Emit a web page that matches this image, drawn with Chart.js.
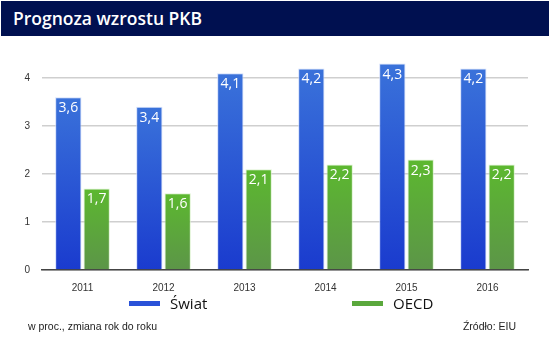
<!DOCTYPE html>
<html lang="pl">
<head>
  <meta charset="UTF-8" />
  <title>Prognoza wzrostu PKB</title>
  <script src="https://cdn.jsdelivr.net/npm/chart.js"></script>
  <style>
    body {
      margin: 0;
      width: 550px;
      height: 340px;
      background: #fff;
      font-family: Arial, "Liberation Sans", sans-serif;
      position: relative;
      overflow: hidden;
    }
    .header {
      position: absolute;
      left: 1px;
      top: 1px;
      width: 548px;
      height: 35px;
      background: #001050;
      color: #fff;
      font-family: "Open Sans", sans-serif;
      font-weight: 600;
      font-size: 17.5px;
      line-height: 35px;
      padding-left: 12px;
      box-sizing: border-box;
    }
    .chart-box {
      position: absolute;
      left: 0;
      top: 36px;
      width: 550px;
      height: 262px;
    }
    .legend {
      position: absolute;
      top: 293px;
      left: 0;
      width: 550px;
      height: 20px;
      font-family: "Open Sans", sans-serif;
      font-size: 15px;
      color: #111;
    }
    .legend .item {
      position: absolute;
      top: 0;
      display: flex;
      align-items: center;
      height: 20px;
    }
    .legend .swatch {
      width: 31px;
      height: 5px;
      margin-right: 10px;
    }
    .note {
      position: absolute;
      top: 320px;
      font-size: 10.5px;
      color: #222;
    }
    .note.left { left: 28px; }
    .note.right { right: 34px; }
  </style>
</head>
<body>

<div class="header">Prognoza wzrostu PKB</div>
<div class="chart-box"><canvas id="gdpChart"></canvas></div>
<div class="legend" id="legend"></div>
<div class="note left">w proc., zmiana rok do roku</div>
<div class="note right">Źródło: EIU</div>

<script>
  const years = ["2011", "2012", "2013", "2014", "2015", "2016"];
  const worldGrowth = [3.6, 3.4, 4.1, 4.2, 4.3, 4.2];
  const oecdGrowth = [1.7, 1.6, 2.1, 2.2, 2.3, 2.2];

  const seriesNames = ["Świat", "OECD"];
  const legendColors = ["#2a52d8", "#5aa83c"];
  const legendLeft = [129, 352];

  // vertical gradient spanning each bar from its top down to zero
  function barGradient(top, bottom) {
    return (ctx) => {
      const chart = ctx.chart;
      const y = chart.scales.y;
      if (!chart.chartArea || !y || ctx.raw == null) return bottom;
      const y0 = y.getPixelForValue(ctx.raw);
      const y1 = y.getPixelForValue(0);
      const g = chart.ctx.createLinearGradient(0, y0, 0, y1);
      g.addColorStop(0, top);
      g.addColorStop(1, bottom);
      return g;
    };
  }

  const valueLabels = {
    id: "valueLabels",
    afterDatasetsDraw(chart) {
      const c = chart.ctx;
      c.save();
      c.fillStyle = "#fff";
      c.font = "14px 'Open Sans', sans-serif";
      c.textAlign = "center";
      c.textBaseline = "middle";
      chart.data.datasets.forEach((ds, i) => {
        chart.getDatasetMeta(i).data.forEach((bar, j) => {
          c.fillText(String(ds.data[j]).replace(".", ","), bar.x, bar.y + 11);
        });
      });
      c.restore();
    }
  };

  const chart = new Chart(document.getElementById("gdpChart"), {
    type: "bar",
    data: {
      labels: years,
      datasets: [
        {
          label: seriesNames[0],
          data: worldGrowth,
          backgroundColor: barGradient("#3a72da", "#1a3bce"),
          borderColor: "rgba(200,215,250,0.8)",
          borderWidth: 1,
          borderSkipped: "bottom"
        },
        {
          label: seriesNames[1],
          data: oecdGrowth,
          backgroundColor: barGradient("#5cb82f", "#5c9548"),
          borderColor: "rgba(215,240,200,0.8)",
          borderWidth: 1,
          borderSkipped: "bottom"
        }
      ]
    },
    options: {
      responsive: true,
      maintainAspectRatio: false,
      animation: false,
      categoryPercentage: 0.7,
      barPercentage: 0.93,
      layout: { padding: { top: 13, right: 22, left: 0, bottom: 0 } },
      plugins: {
        legend: { display: false },
        tooltip: { enabled: false }
      },
      scales: {
        x: {
          grid: { display: false },
          border: { color: "#444", width: 1.5 },
          ticks: { color: "#333", font: { family: "Arial", size: 10 }, padding: 4 }
        },
        y: {
          min: 0,
          max: 4.5,
          afterBuildTicks: (s) => { s.ticks = s.ticks.filter(t => Number.isInteger(t.value)); },
          afterFit: (s) => { s.width = 42; },
          grid: { color: "#cfcfcf", lineWidth: 1.5, drawTicks: false },
          border: { display: false },
          ticks: { stepSize: 1, color: "#333", font: { family: "Arial", size: 10 }, padding: 12 }
        }
      }
    },
    plugins: [valueLabels]
  });

  // legend built from the chart's datasets
  const legendEl = document.getElementById("legend");
  chart.data.datasets.forEach((ds, i) => {
    const item = document.createElement("div");
    item.className = "item";
    item.style.left = legendLeft[i] + "px";
    const sw = document.createElement("span");
    sw.className = "swatch";
    sw.style.background = legendColors[i];
    const txt = document.createElement("span");
    txt.textContent = ds.label;
    item.append(sw, txt);
    legendEl.appendChild(item);
  });
</script>

</body>
</html>
